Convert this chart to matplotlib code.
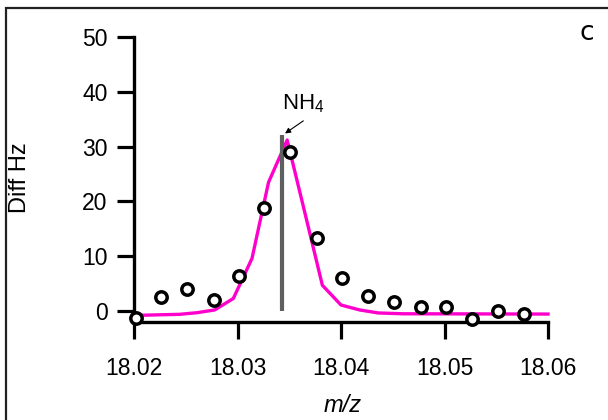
import matplotlib
matplotlib.use("Agg")
import matplotlib.pyplot as plt
from matplotlib.patches import Rectangle

plt.rcParams["font.family"] = ["Liberation Sans", "DejaVu Sans"]
plt.rcParams["mathtext.fontset"] = "custom"
plt.rcParams["mathtext.rm"] = "Liberation Sans"
plt.rcParams["mathtext.it"] = "Liberation Sans:italic"

# measured points (circles)
mz_obs = [18.0202, 18.0226, 18.0251, 18.0277, 18.0301, 18.0326, 18.0351, 18.0377,
          18.0401, 18.0426, 18.0451, 18.0477, 18.0501, 18.0527, 18.0552, 18.0577]
diff_obs = [-1.3, 2.5, 4.1, 2.0, 6.4, 18.8, 29.0, 13.3,
            6.1, 2.7, 1.6, 0.7, 0.7, -1.5, -0.05, -0.5]

# fitted curve (magenta)
mz_fit = [18.0200, 18.0244, 18.0261, 18.0278, 18.0296, 18.0314, 18.0330, 18.0348,
          18.0365, 18.0382, 18.0400, 18.0418, 18.0436, 18.0460, 18.0600]
diff_fit = [-0.8, -0.6, -0.3, 0.2, 2.3, 9.6, 23.5, 31.2,
            18.0, 4.7, 1.1, 0.2, -0.35, -0.5, -0.55]

# NH4 reference line
nh4_mz = 18.0343
nh4_height = 32.2

x_ticks = [18.02, 18.03, 18.04, 18.05, 18.06]
x_tick_labels = ["18.02", "18.03", "18.04", "18.05", "18.06"]
y_ticks = [0, 10, 20, 30, 40, 50]

W, H = 608, 420
fig = plt.figure(figsize=(W / 100, H / 100), dpi=100)
ax = fig.add_axes([134 / W, 1 - 322 / H, 414 / W, 285 / H])

ax.plot(mz_fit, diff_fit, color="#ff00cc", lw=2.4, zorder=2, clip_on=False)
ax.vlines(nh4_mz, 0, nh4_height, color="#5f5f5f", lw=3, zorder=3)
ax.plot(mz_obs, diff_obs, "o", ms=8.2, mfc="white", mec="black", mew=2.5,
        zorder=4, clip_on=False)

ax.annotate("", xy=(18.03459, 32.4), xytext=(18.03636, 34.7),
            arrowprops=dict(arrowstyle="-|>", lw=0.8, color="black",
                            mutation_scale=8, shrinkA=0, shrinkB=0))
ax.text(18.03427, 36.8, r"NH$_\mathregular{4}$", fontsize=16, ha="left",
        va="baseline")

ax.set_xlim(18.02, 18.06)
ax.set_ylim(-2.0, 50)
ax.set_xticks(x_ticks)
ax.set_xticklabels(x_tick_labels)
ax.set_yticks(y_ticks)

for s in ["top", "right"]:
    ax.spines[s].set_visible(False)
for s in ["left", "bottom"]:
    ax.spines[s].set_linewidth(2.4)
ax.tick_params(direction="out", length=12.5, width=2.3, labelsize=16.5)
ax.tick_params(axis="x", pad=12.5)
ax.tick_params(axis="y", pad=6.5)

fig.text(20.5 / W, 1 - 178 / H, "Diff Hz", rotation=90, ha="center",
         va="center", fontsize=17)
fig.text(342.5 / W, 1 - 406 / H, "m/z", style="italic", ha="center",
         va="center", fontsize=17)
fig.text(587 / W, 1 - 33 / H, "c", family="DejaVu Sans", ha="center",
         va="center", fontsize=19)

fig.patches.append(Rectangle((5.5 / W, -0.1), 1.2, 1.1 - 8.5 / H,
                             transform=fig.transFigure, fill=False,
                             edgecolor="#222222", lw=1.6))

fig.savefig("out.png", dpi=100)
